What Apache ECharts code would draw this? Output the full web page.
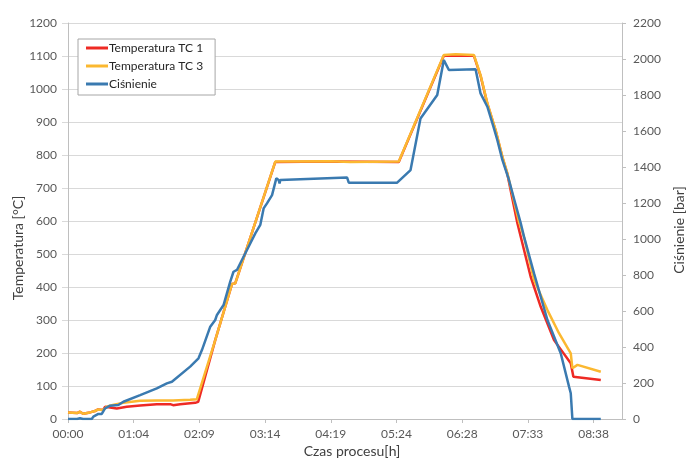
<!DOCTYPE html>
<html>
<head>
<meta charset="utf-8">
<script src="https://cdn.jsdelivr.net/npm/echarts@6/dist/echarts.min.js"></script>
<style>
html,body{margin:0;padding:0;background:#fff;}
#c{width:686px;height:459px;}
</style>
</head>
<body>
<div id="c"></div>
<script>
// time in minutes from process start
var tickStep = 64.75;
var tickLabels = ['00:00','01:04','02:09','03:14','04:19','05:24','06:28','07:33','08:38'];

var tc1Time = [0,8.9,11.8,14.8,21.7,26.6,29.6,34.5,36.5,48.1,57.9,71.1,87.5,100.7,103.6,110.5,125.3,128.3,145.1,161.6,164.8,168.1,204.3,258.6,326.0,370.4,400.0,406.6,413.3,421.4,428.1,433.0,434.6,442.9,456.0,465.9,479.0,495.5,498.1,525.1];
var tc1Vals = [20,18,22,16,20,24,29,27,37,32,37,41,45,45,42,45,49,52,239,409,411,441,779,780,779,1101,1101,1040,955,874,793,743,718,593,431,340,239,169,128,118];

var tc3Time = [0,8.9,11.8,14.8,21.7,26.6,29.6,34.5,38.2,43.1,54.6,71.1,87.5,103.6,120.4,127.0,128.3,145.1,161.6,164.8,168.1,204.3,206.0,258.6,278.3,326.0,370.4,382.0,400.0,406.6,413.3,421.4,428.1,433.0,434.6,444.4,449.4,459.3,472.5,483.9,495.5,497.1,502.1,525.1];
var tc3Vals = [20,18,22,16,20,24,29,27,37,42,49,55,56,56,58,60,61,239,409,411,441,780,783,781,779,780,1103,1105,1103,1042,957,876,795,745,724,598,552,421,330,260,199,154,164,143];

var presTime = [0,8.9,11.8,14.8,23.4,25.0,29.9,33.3,36.5,41.5,49.6,54.6,71.1,87.5,97.4,102.4,103.9,120.4,128.6,132.0,140.2,145.1,146.8,153.3,159.9,163.1,166.5,171.4,178.0,184.6,189.5,192.8,196.1,201.1,205.3,207.6,208.5,209.2,275.1,276.7,324.4,337.6,347.4,363.9,370.4,372.1,375.4,401.7,406.6,413.3,419.8,423.1,428.1,434.6,439.5,446.1,449.4,459.3,472.5,485.6,493.8,495.5,497.1,525.1];
var presVals = [0,0,4,0,0,13,28,28,59,74,78,96,133,170,198,207,202,291,337,383,513,550,578,633,763,818,828,883,957,1031,1078,1170,1198,1244,1337,1328,1309,1328,1341,1313,1313,1383,1670,1800,1994,2004,1939,1943,1809,1735,1615,1550,1439,1328,1225,1090,1013,809,550,365,180,143,0,0];

function pairs(t, v){ return t.map(function(x,i){ return [x, v[i]]; }); }
var tickValues = tickLabels.map(function(_, i){ return i * tickStep; });
function plain(v){ return String(v); }

var FONT = 'Lato';
var chart = echarts.init(document.getElementById('c'), null, {renderer:'canvas'});
chart.setOption({
  animation:false,
  backgroundColor:'#ffffff',
  textStyle:{fontFamily:FONT},
  grid:{left:68,right:64,top:23,bottom:40},
  legend:{
    orient:'vertical', left:78, top:39,
    padding:[3,12,5,8], itemGap:6, itemWidth:22, itemHeight:3,
    borderColor:'#a6a6a6', borderWidth:1, backgroundColor:'#fff',
    textStyle:{fontFamily:FONT,fontSize:12,color:'#262626',padding:[0,0,0,-4],lineHeight:12},
    data:[
      {name:'Temperatura TC 1',icon:'rect'},
      {name:'Temperatura TC 3',icon:'rect'},
      {name:'Ciśnienie',icon:'rect'}
    ]
  },
  xAxis:{
    type:'value', min:0, max:546,
    splitLine:{show:false},
    axisLine:{show:true,lineStyle:{color:'#bfbfbf'}},
    axisTick:{show:true,length:4,customValues:tickValues,lineStyle:{color:'#bfbfbf'}},
    axisLabel:{customValues:tickValues,margin:9,fontFamily:FONT,fontSize:12,color:'#595959',
      formatter:function(v){ var i=Math.round(v/tickStep); return tickLabels[i]||''; }}
  },
  yAxis:[{
    type:'value', min:0, max:1200, interval:100,
    axisLine:{show:true,lineStyle:{color:'#bfbfbf'}},
    axisTick:{show:true,length:6,lineStyle:{color:'#d9d9d9'}},
    splitLine:{show:true,lineStyle:{color:'#d9d9d9',width:1}},
    axisLabel:{margin:11,fontFamily:FONT,fontSize:12,color:'#595959',formatter:plain}
  },{
    type:'value', min:0, max:2200, interval:200, position:'right',
    axisLine:{show:true,lineStyle:{color:'#bfbfbf'}},
    axisTick:{show:true,length:4,lineStyle:{color:'#bfbfbf'}},
    splitLine:{show:false},
    axisLabel:{margin:11,fontFamily:FONT,fontSize:12,color:'#595959',formatter:plain}
  }],
  graphic:[
    {type:'text',x:18,y:248,rotation:Math.PI/2,style:{text:'Temperatura [°C]',font:'14px '+FONT,fill:'#404040',align:'center',verticalAlign:'middle'}},
    {type:'text',x:679,y:230,rotation:Math.PI/2,style:{text:'Ciśnienie [bar]',font:'14px '+FONT,fill:'#404040',align:'center',verticalAlign:'middle'}},
    {type:'text',x:352,y:451,style:{text:'Czas procesu[h]',font:'14px '+FONT,fill:'#404040',align:'center',verticalAlign:'middle'}}
  ],
  series:[
    {name:'Temperatura TC 1',type:'line',yAxisIndex:0,symbol:'none',color:'#ee2a24',lineStyle:{width:2.5,color:'#ee2a24'},data:pairs(tc1Time,tc1Vals),z:2},
    {name:'Temperatura TC 3',type:'line',yAxisIndex:0,symbol:'none',color:'#fbb830',lineStyle:{width:2.5,color:'#fbb830'},data:pairs(tc3Time,tc3Vals),z:3},
    {name:'Ciśnienie',type:'line',yAxisIndex:1,symbol:'none',color:'#3a7ab0',lineStyle:{width:2.5,color:'#3a7ab0'},data:pairs(presTime,presVals),z:4}
  ]
});
</script>
</body>
</html>
